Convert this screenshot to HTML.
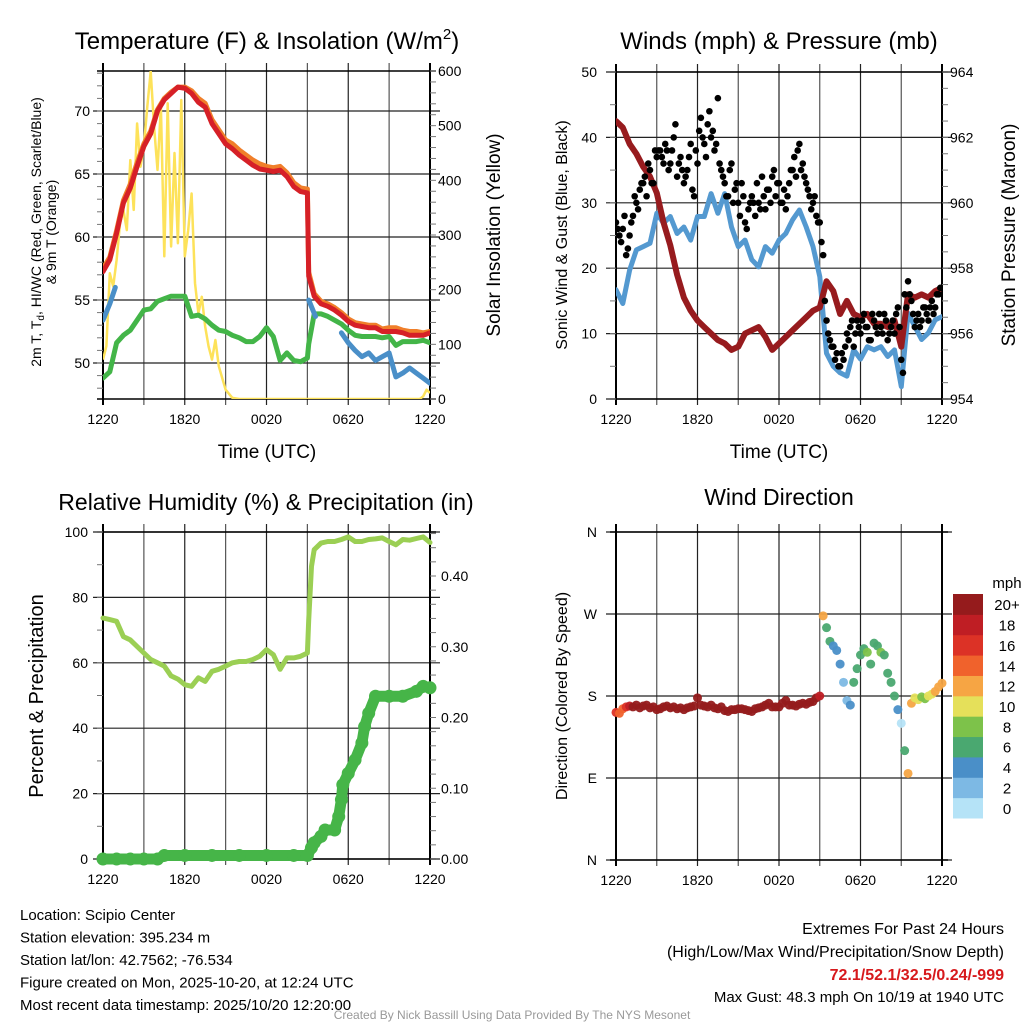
<!DOCTYPE html>
<html><head><meta charset="utf-8"><style>
html,body{margin:0;padding:0;background:#fff;}
svg{display:block;font-family:"Liberation Sans",Arial,sans-serif;}
</style></head><body>
<svg id="chart" width="1024" height="1024" viewBox="0 0 1024 1024" xmlns="http://www.w3.org/2000/svg">
<g id="content"></g>
</svg>
<script>
// ---- data ----
const hoursHalf = [0,0.5,1,1.5,2,2.5,3,3.5,4,4.5,5,5.5,6,6.5,7,7.5,8,8.5,9,9.5,10,10.5,11,11.5,12,12.5,13,13.5,14,14.5,15,15.5,16,16.5,17,17.5,18,18.5,19,19.5,20,20.5,21,21.5,22,22.5,23,23.5,24];
const tempHours = [0,0.5,1,1.5,2,2.5,3,3.5,4,4.5,5,5.5,6,6.5,7,7.5,8,8.5,9,9.5,10,10.5,11,11.5,12,12.5,13,13.5,14,14.5,15,15.1,15.5,16,16.5,17,17.5,18,18.5,19,19.5,20,20.5,21,21.5,22,22.5,23,23.5,24];
const temp2m = [57.25,58.2,60.3,62.7,63.9,65.6,67.2,68.2,70,70.9,71.4,71.9,71.8,71.4,70.7,70.3,69,68.2,67.4,67,66.5,66.1,65.7,65.4,65.3,65.2,65.3,64.8,64,63.6,63.5,56.9,55.3,54.7,54.5,54.2,53.8,53.3,53.0,52.9,52.8,52.8,52.5,52.5,52.5,52.4,52.2,52.2,52.2,52.4];
const temp9m = [57.5,58.4,60.5,62.9,64.2,65.9,67.4,68.4,70.1,71.0,71.5,71.9,71.9,71.6,71.0,70.6,69.3,68.5,67.7,67.4,66.9,66.5,66.1,65.8,65.6,65.5,65.6,65.1,64.3,63.9,63.8,57.2,55.5,54.9,54.7,54.4,54.0,53.5,53.2,53.1,53.0,53.0,52.7,52.8,52.8,52.6,52.5,52.5,52.4,52.5];
const dewpoint = [48.8,49.3,51.6,52.2,52.6,53.4,54.2,54.3,54.9,55.1,55.3,55.3,55.3,53.7,53.8,53.5,53.0,52.6,52.5,52.2,52.0,51.7,51.7,52.1,52.8,52.1,50.2,50.8,50.2,50.1,50.4,51.5,53.9,53.9,53.7,53.4,53.1,52.6,52.2,52.1,52.1,52.1,52.0,52.1,51.4,51.7,51.7,51.7,51.8,51.6];
const hiwcHours = [0,0.5,0.9,null,15.1,15.6,null,17.5,18,18.5,19,19.5,20,20.5,21,21.5,22,22.5,23,23.5,24];
const hiwc = [53.4,54.7,56.0,null,55.0,53.7,null,52.4,51.6,51.0,50.5,50.8,50.2,50.5,50.8,48.9,49.2,49.6,49.2,48.8,48.4];
const insolHours = [0,0.25,0.5,0.75,1,1.25,1.5,1.75,2,2.25,2.5,2.75,3,3.25,3.5,3.75,4,4.25,4.5,4.75,5,5.25,5.5,5.75,6,6.25,6.5,6.75,7,7.25,7.5,7.75,8,8.25,8.5,9,9.5,10,23.25,23.5,23.75,24];
const insolation = [72,97,230,206,254,321,346,309,437,346,504,425,462,535,599,498,419,535,261,541,279,450,285,547,261,309,376,212,157,187,132,96,72,108,60,17,2,0,0,5,17,11];
const windSpeed = [16.7,14.6,19.7,22.8,23.3,23.8,28.4,26.9,27.9,25.3,26.3,24.3,27.9,27.9,31.4,28.4,31.4,26.3,23.3,24.3,21.3,20.2,23.3,22.3,24.3,25.3,27.4,28.9,26.3,23.3,18.7,7.0,5.0,4.0,3.5,7.5,6.1,8.0,7.5,8.0,6.5,7.5,1.9,13.1,11.1,9.1,10.1,12.1,12.6];
const pressure = [962.5,962.3,961.8,961.5,961.1,960.8,960.3,959.4,958.7,957.8,957.1,956.7,956.4,956.2,956.0,955.8,955.7,955.5,955.6,956.0,956.1,956.2,955.9,955.5,955.7,955.9,956.1,956.3,956.5,956.7,956.8,957.6,957.3,956.6,957.0,956.6,956.5,956.6,956.3,956.3,956.2,956.4,955.6,957.2,957.1,957.2,957.1,957.3,957.4];
const gust = [27,25,26,22, 25,28,30,32, 33,31,35,33, 37,38,36,38, 36,40,34,37, 33,35,39,31, 36,43,39,42, 40,38,46,35, 33,31,36,32, 30,33,27,29, 31,28,30,34, 29,32,34,31, 33,30,29,33, 35,34,39,36, 33,31,30,28, 27,22,12,9, 8,7,5,6, 10,11,8,12, 10,13,11,9, 12,10,11,13, 9,11,10,14, 6,16,18,15, 11,13,12,14, 12,15,14,16, 17];
const gust2 = [26,24,28,23, 27,31,29,33, 34,36,33,38, 38,37,39,35, 38,42,36,35, 34,37,32,38, 41,40,37,44, 41,39,36,34, 31,35,30,33, 28,31,26,30, 30,33,29,31, 32,30,35,33, 30,32,31,35, 37,38,35,34, 32,29,31,27, 24,15,10,8, 6,5,7,8, 9,12,10,11, 12,11,9,13, 11,13,10,12, 10,12,13,11, 4,14,16,13, 12,11,14,13, 14,13,16,17];
const rhHours = [0,0.5,1,1.5,2,2.5,3,3.5,4,4.5,5,5.5,6,6.5,7,7.5,8,8.5,9,9.5,10,10.5,11,11.5,12,12.5,13,13.5,14,14.5,15,15.1,15.3,15.5,16,16.5,17,17.5,18,18.5,19,19.5,20,20.5,21,21.5,22,22.5,23,23.5,24];
const rh = [73.7,73.2,72.7,68,67,65,63,61,60,59,56,55,53.3,52.8,55.4,54.3,57.4,58,59,60,60.4,60.4,61,62,64,62.5,58,61.5,61.5,62,63,73,89.5,94.6,96.6,97.1,97.1,97.7,98.5,97.1,97.1,97.7,97.9,98.2,97.1,96.1,97.7,97.5,98,98.5,96.8];
const precipHours = [0,1,2,3,4,4.5,6,8,10,12,14,15,15.3,15.5,16,16.3,17,17.3,17.5,17.6,18,18.5,19,19.2,19.5,20,21,22,23,23.5,24];
const precip = [0,0,0,0,0,0.005,0.005,0.005,0.005,0.005,0.005,0.005,0.016,0.023,0.032,0.041,0.041,0.06,0.084,0.105,0.121,0.14,0.164,0.187,0.206,0.23,0.23,0.23,0.237,0.244,0.242];
const dirHours = [];
const direction = [162,161,166,168, 169,168,170,167, 169,170,167,168, 165,166,168,169, 167,168,166,167, 165,167,168,169, 178,170,169,168, 170,167,166,168, 164,163,165,165, 166,166,165,164, 163,166,167,168, 170,172,168,168, 168,172,175,170, 170,169,171,172, 171,173,174,178, 180,268,255,240, 235,230,215,195, 175,170,195,210, 225,232,228,215, 238,235,228,225, 205,195,180,165, 150,120,95,172, 178,176,179,177, 180,182,185,190, 194];
for (let i=0;i<direction.length;i++) dirHours.push(i*0.25);
const xTickLabels = ["1220","1820","0020","0620","1220"];
const speedColors = ["#b5e3f7","#7db9e4","#4a8fc8","#4aa870","#7dc24a","#e5e05a","#f6a544","#f0622c","#dc3226","#bf1e24","#951b1c"];
const speedLabels = ["0","2","4","6","8","10","12","14","16","18","20+"];

// ---- helpers ----
const NS = "http://www.w3.org/2000/svg";
const root = document.getElementById("content");
function el(tag, attrs, parent) {
  const e = document.createElementNS(NS, tag);
  for (const k in attrs) e.setAttribute(k, attrs[k]);
  (parent || root).appendChild(e);
  return e;
}
function lin(d0,d1,r0,r1){ return v => r0 + (v-d0)*(r1-r0)/(d1-d0); }
function txt(x,y,s,size,anchor,parent,extra){
  const t = el("text",Object.assign({x:x,y:y,"font-size":size,"text-anchor":anchor||"middle",fill:"#000"},extra||{}),parent);
  t.textContent = s; return t;
}
function pathFrom(hs, vs, xs, ys){
  let d="", pen=false;
  for (let i=0;i<hs.length;i++){
    if (hs[i]===null || vs[i]===null){ pen=false; continue; }
    d += (pen?"L":"M") + xs(hs[i]).toFixed(1) + "," + ys(vs[i]).toFixed(1);
    pen = true;
  }
  return d;
}
function interp(hs, vs, h){
  for (let i=0;i<hs.length-1;i++){
    if (h>=hs[i] && h<=hs[i+1]) return vs[i] + (vs[i+1]-vs[i])*(h-hs[i])/(hs[i+1]-hs[i]);
  }
  return vs[vs.length-1];
}
function frame(name, x0,x1,y0,y1, hLines){
  const g = el("g",{});
  
  
  for (let i=0;i<=8;i++){
    const x = x0 + (x1-x0)*i/8;
    el("line",{x1:x,x2:x,y1:y0-8,y2:y1+6,stroke:i%2? "#555":"#222","stroke-width":1.2},g);
  }
  hLines.forEach(y=>{ el("line",{x1:x0-10,x2:x1+10,y1:y,y2:y,stroke:"#222","stroke-width":1.2},g); });
  el("line",{x1:x0,x2:x0,y1:y0-8,y2:y1+6,stroke:"#000","stroke-width":2},g);
  el("line",{x1:x1,x2:x1,y1:y0-8,y2:y1+6,stroke:"#000","stroke-width":2},g);
  el("line",{x1:x0-6,x2:x1+6,y1:y0,y2:y0,stroke:"#000","stroke-width":1.5},g);
  el("line",{x1:x0-6,x2:x1+6,y1:y1,y2:y1,stroke:"#000","stroke-width":1.5},g);
  const lab = el("g",{});
  
  
  xTickLabels.forEach((s,i)=>{ txt(x0+(x1-x0)*i/4, y1+25, s, 14, "middle", lab); });
}
function ticks(x, ys, len, parent){
  ys.forEach(y=>{ el("line",{x1:x,x2:x+len,y1:y,y2:y,stroke:"#777","stroke-width":1},parent); });
}
function range(a,b,s){ const r=[]; for(let v=a; v<=b+1e-9; v+=s) r.push(+v.toFixed(4)); return r; }

// ================= Panel 1: Temperature =================
(function(){
  const x0=103,x1=430,y0=71,y1=399;
  const xs = lin(0,24,x0,x1), yL = lin(50,70,363,111), yR = lin(0,600,399,71);
  frame("temperature-panel",x0,x1,y0,y1,[70,65,60,55,50].map(yL));
  const tk = el("g",{});
  
  
  ticks(x0-6, range(48,73,1).map(yL), 6, tk);
  ticks(x1, range(0,600,20).map(yR), 6, tk);
  [50,55,60,65,70].forEach(v=>txt(90,yL(v)+5,String(v),14,"end",tk));
  [0,100,200,300,400,500,600].forEach(v=>txt(438,yR(v)+5,String(v),14,"start",tk));
  const clip = el("clipPath",{id:"c1"}); el("rect",{x:x0,y:y0,width:x1-x0,height:y1-y0},clip);
  const s = el("g",{"clip-path":"url(#c1)"});
  const ins = el("path",{d:pathFrom(insolHours,insolation,xs,yR),fill:"none",stroke:"#fde25a","stroke-width":2.5,"stroke-linejoin":"round"},s);
  
  
  const dp = el("path",{d:pathFrom(tempHours,dewpoint,xs,yL),fill:"none",stroke:"#43b548","stroke-width":5,"stroke-linejoin":"round","stroke-linecap":"round"},s);
  
  
  const hw = el("path",{d:pathFrom(hiwcHours,hiwc,xs,yL),fill:"none",stroke:"#4a8fc8","stroke-width":5,"stroke-linejoin":"round","stroke-linecap":"round"},s);
  
  
  const t9 = el("path",{d:pathFrom(tempHours,temp9m,xs,yL),fill:"none",stroke:"#f07f2a","stroke-width":5,"stroke-linejoin":"round","stroke-linecap":"round"},s);
  
  
  const t2 = el("path",{d:pathFrom(tempHours,temp2m,xs,yL),fill:"none",stroke:"#d62027","stroke-width":5,"stroke-linejoin":"round","stroke-linecap":"round"},s);
  
  
  const ti = el("text",{x:267,y:49,"font-size":24,"text-anchor":"middle"});
  ti.innerHTML = 'Temperature (F) &amp; Insolation (W/m<tspan font-size="15" dy="-10">2</tspan><tspan dy="10">)</tspan>';
  
  
  const xt = txt(267,458,"Time (UTC)",19,"middle");
  
  
  const yt = el("text",{transform:"translate(41,232) rotate(-90)","font-size":14,"text-anchor":"middle"});
  yt.innerHTML = '<tspan x="0" dy="0">2m T, T<tspan font-size="10" dy="3">d</tspan><tspan dy="-3">, HI/WC (Red, Green, Scarlet/Blue)</tspan></tspan><tspan x="0" dy="15">&amp; 9m T (Orange)</tspan>';
  
  
  const yr = el("text",{transform:"translate(500,235) rotate(-90)","font-size":19,"text-anchor":"middle"});
  yr.textContent = "Solar Insolation (Yellow)";
  
  
})();

// ================= Panel 2: Winds =================
(function(){
  const x0=616,x1=942,y0=72,y1=399;
  const xs = lin(0,24,x0,x1), yL = lin(0,50,399,72), yR = lin(954,964,399,72);
  frame("wind-panel",x0,x1,y0,y1,[0,10,20,30,40,50].map(yL));
  const tk = el("g",{});
  
  
  ticks(x0-6, range(0,50,5).map(yL), 6, tk);
  ticks(x1, range(954,964,0.5).map(yR), 6, tk);
  [0,10,20,30,40,50].forEach(v=>txt(597,yL(v)+5,String(v),14,"end",tk));
  [954,956,958,960,962,964].forEach(v=>txt(950,yR(v)+5,String(v),14,"start",tk));
  const clip = el("clipPath",{id:"c2"}); el("rect",{x:x0,y:y0,width:x1-x0,height:y1-y0},clip);
  const s = el("g",{"clip-path":"url(#c2)"});
  const ws = el("path",{d:pathFrom(hoursHalf,windSpeed,xs,yL),fill:"none",stroke:"#5499d0","stroke-width":5,"stroke-linejoin":"round","stroke-linecap":"round"},s);
  
  
  const pr = el("path",{d:pathFrom(hoursHalf,pressure,xs,yR),fill:"none",stroke:"#971b1e","stroke-width":6,"stroke-linejoin":"round","stroke-linecap":"round"},s);
  
  
  const gg = el("g",{},s);
  
  
  gust.forEach((g,i)=>{
    const c = el("circle",{cx:xs(i*0.25),cy:yL(g),r:3.3,fill:"#000"},gg);
    
    
  });
  gust2.forEach((g,i)=>{
    const c = el("circle",{cx:xs(i*0.25+0.125),cy:yL(g),r:3.3,fill:"#000"},gg);
    
    
  });
  const ti = txt(779,49,"Winds (mph) & Pressure (mb)",24,"middle");
  
  
  const xt = txt(779,458,"Time (UTC)",19,"middle");
  
  
  const yl = el("text",{transform:"translate(567,235) rotate(-90)","font-size":16,"text-anchor":"middle"});
  yl.textContent = "Sonic Wind & Gust (Blue, Black)";
  
  
  const yr = el("text",{transform:"translate(1015,235) rotate(-90)","font-size":19,"text-anchor":"middle"});
  yr.textContent = "Station Pressure (Maroon)";
  
  
})();

// ================= Panel 3: RH & Precip =================
(function(){
  const x0=103,x1=430,y0=532,y1=859;
  const xs = lin(0,24,x0,x1), yL = lin(0,100,859,532), yR = lin(0,0.4,859,576);
  frame("humidity-panel",x0,x1,y0,y1,[0,20,40,60,80,100].map(yL));
  const tk = el("g",{});
  
  
  ticks(x0-6, range(0,100,10).map(yL), 6, tk);
  ticks(x1, range(0,0.46,0.02).map(yR), 6, tk);
  [0,20,40,60,80,100].forEach(v=>txt(88,yL(v)+5,String(v),14,"end",tk));
  ["0.00","0.10","0.20","0.30","0.40"].forEach(v=>txt(441,yR(+v)+5,v,14,"start",tk));
  const s = el("g",{});
  const rl = el("path",{d:pathFrom(rhHours,rh,xs,yL),fill:"none",stroke:"#9bcf54","stroke-width":5,"stroke-linejoin":"round","stroke-linecap":"round"},s);
  
  
  const pl = el("path",{d:pathFrom(precipHours,precip,xs,yR),fill:"none",stroke:"#46b548","stroke-width":11,"stroke-linejoin":"round","stroke-linecap":"round"},s);
  
  
  precipHours.forEach((h,i)=>{
    const c = el("circle",{cx:xs(h),cy:yR(precip[i]),r:6.5,fill:"#46b548"},s);
    
    
  });
  const ti = txt(266,510,"Relative Humidity (%) & Precipitation (in)",23,"middle");
  
  
  const yl = el("text",{transform:"translate(43,696) rotate(-90)","font-size":20,"text-anchor":"middle"});
  yl.textContent = "Percent & Precipitation";
  
  
})();

// ================= Panel 4: Wind direction =================
(function(){
  const x0=616,x1=942,y0=532,y1=860;
  const xs = lin(0,24,x0,x1), yD = lin(0,360,860,532);
  frame("direction-panel",x0,x1,y0,y1,[0,90,180,270,360].map(yD));
  const tk = el("g",{});
  
  
  [["N",360],["W",270],["S",180],["E",90],["N",0]].forEach(p=>txt(597,yD(p[1])+5,p[0],14,"end",tk));
  const s = el("g",{});
  
  
  direction.forEach((d,i)=>{
    const h = dirHours[i];
    const sp = interp(hoursHalf, windSpeed, h);
    const idx = Math.max(0,Math.min(10,Math.floor(sp/2)));
    const c = el("circle",{cx:xs(h),cy:yD(d),r:4.5,fill:speedColors[idx],"fill-opacity":0.95},s);
    
    
  });
  const lg = el("g",{});
  
  
  const bh = 224/11;
  speedColors.forEach((col,i)=>{
    const yy = 818 - (i+1)*bh;
    el("rect",{x:953,y:yy,width:30,height:bh+0.5,fill:col},lg);
    txt(1007,yy+bh/2+6,speedLabels[i],15,"middle",lg);
  });
  txt(1007,588,"mph",15,"middle",lg);
  const ti = txt(779,505,"Wind Direction",23,"middle");
  
  
  const yl = el("text",{transform:"translate(567,696) rotate(-90)","font-size":16,"text-anchor":"middle"});
  yl.textContent = "Direction (Colored By Speed)";
  
  
})();

// ================= Footer =================
(function(){
  const f = el("g",{});
  
  
  ["Location: Scipio Center","Station elevation: 395.234 m","Station lat/lon: 42.7562; -76.534","Figure created on Mon, 2025-10-20, at 12:24 UTC","Most recent data timestamp: 2025/10/20 12:20:00"].forEach((s,i)=>txt(20,920+i*22.5,s,15,"start",f));
  const e = el("g",{});
  
  
  txt(1004,934,"Extremes For Past 24 Hours",16,"end",e);
  txt(1004,957,"(High/Low/Max Wind/Precipitation/Snow Depth)",16,"end",e);
  txt(1004,980,"72.1/52.1/32.5/0.24/-999",16,"end",e,{fill:"#d7191c","font-weight":"bold"});
  txt(1004,1002,"Max Gust: 48.3 mph On 10/19 at 1940 UTC",15,"end",e);
  const c = txt(512,1019,"Created By Nick Bassill Using Data Provided By The NYS Mesonet",12,"middle",null,{fill:"#999"});
  
  
})();
</script>
</body></html>
